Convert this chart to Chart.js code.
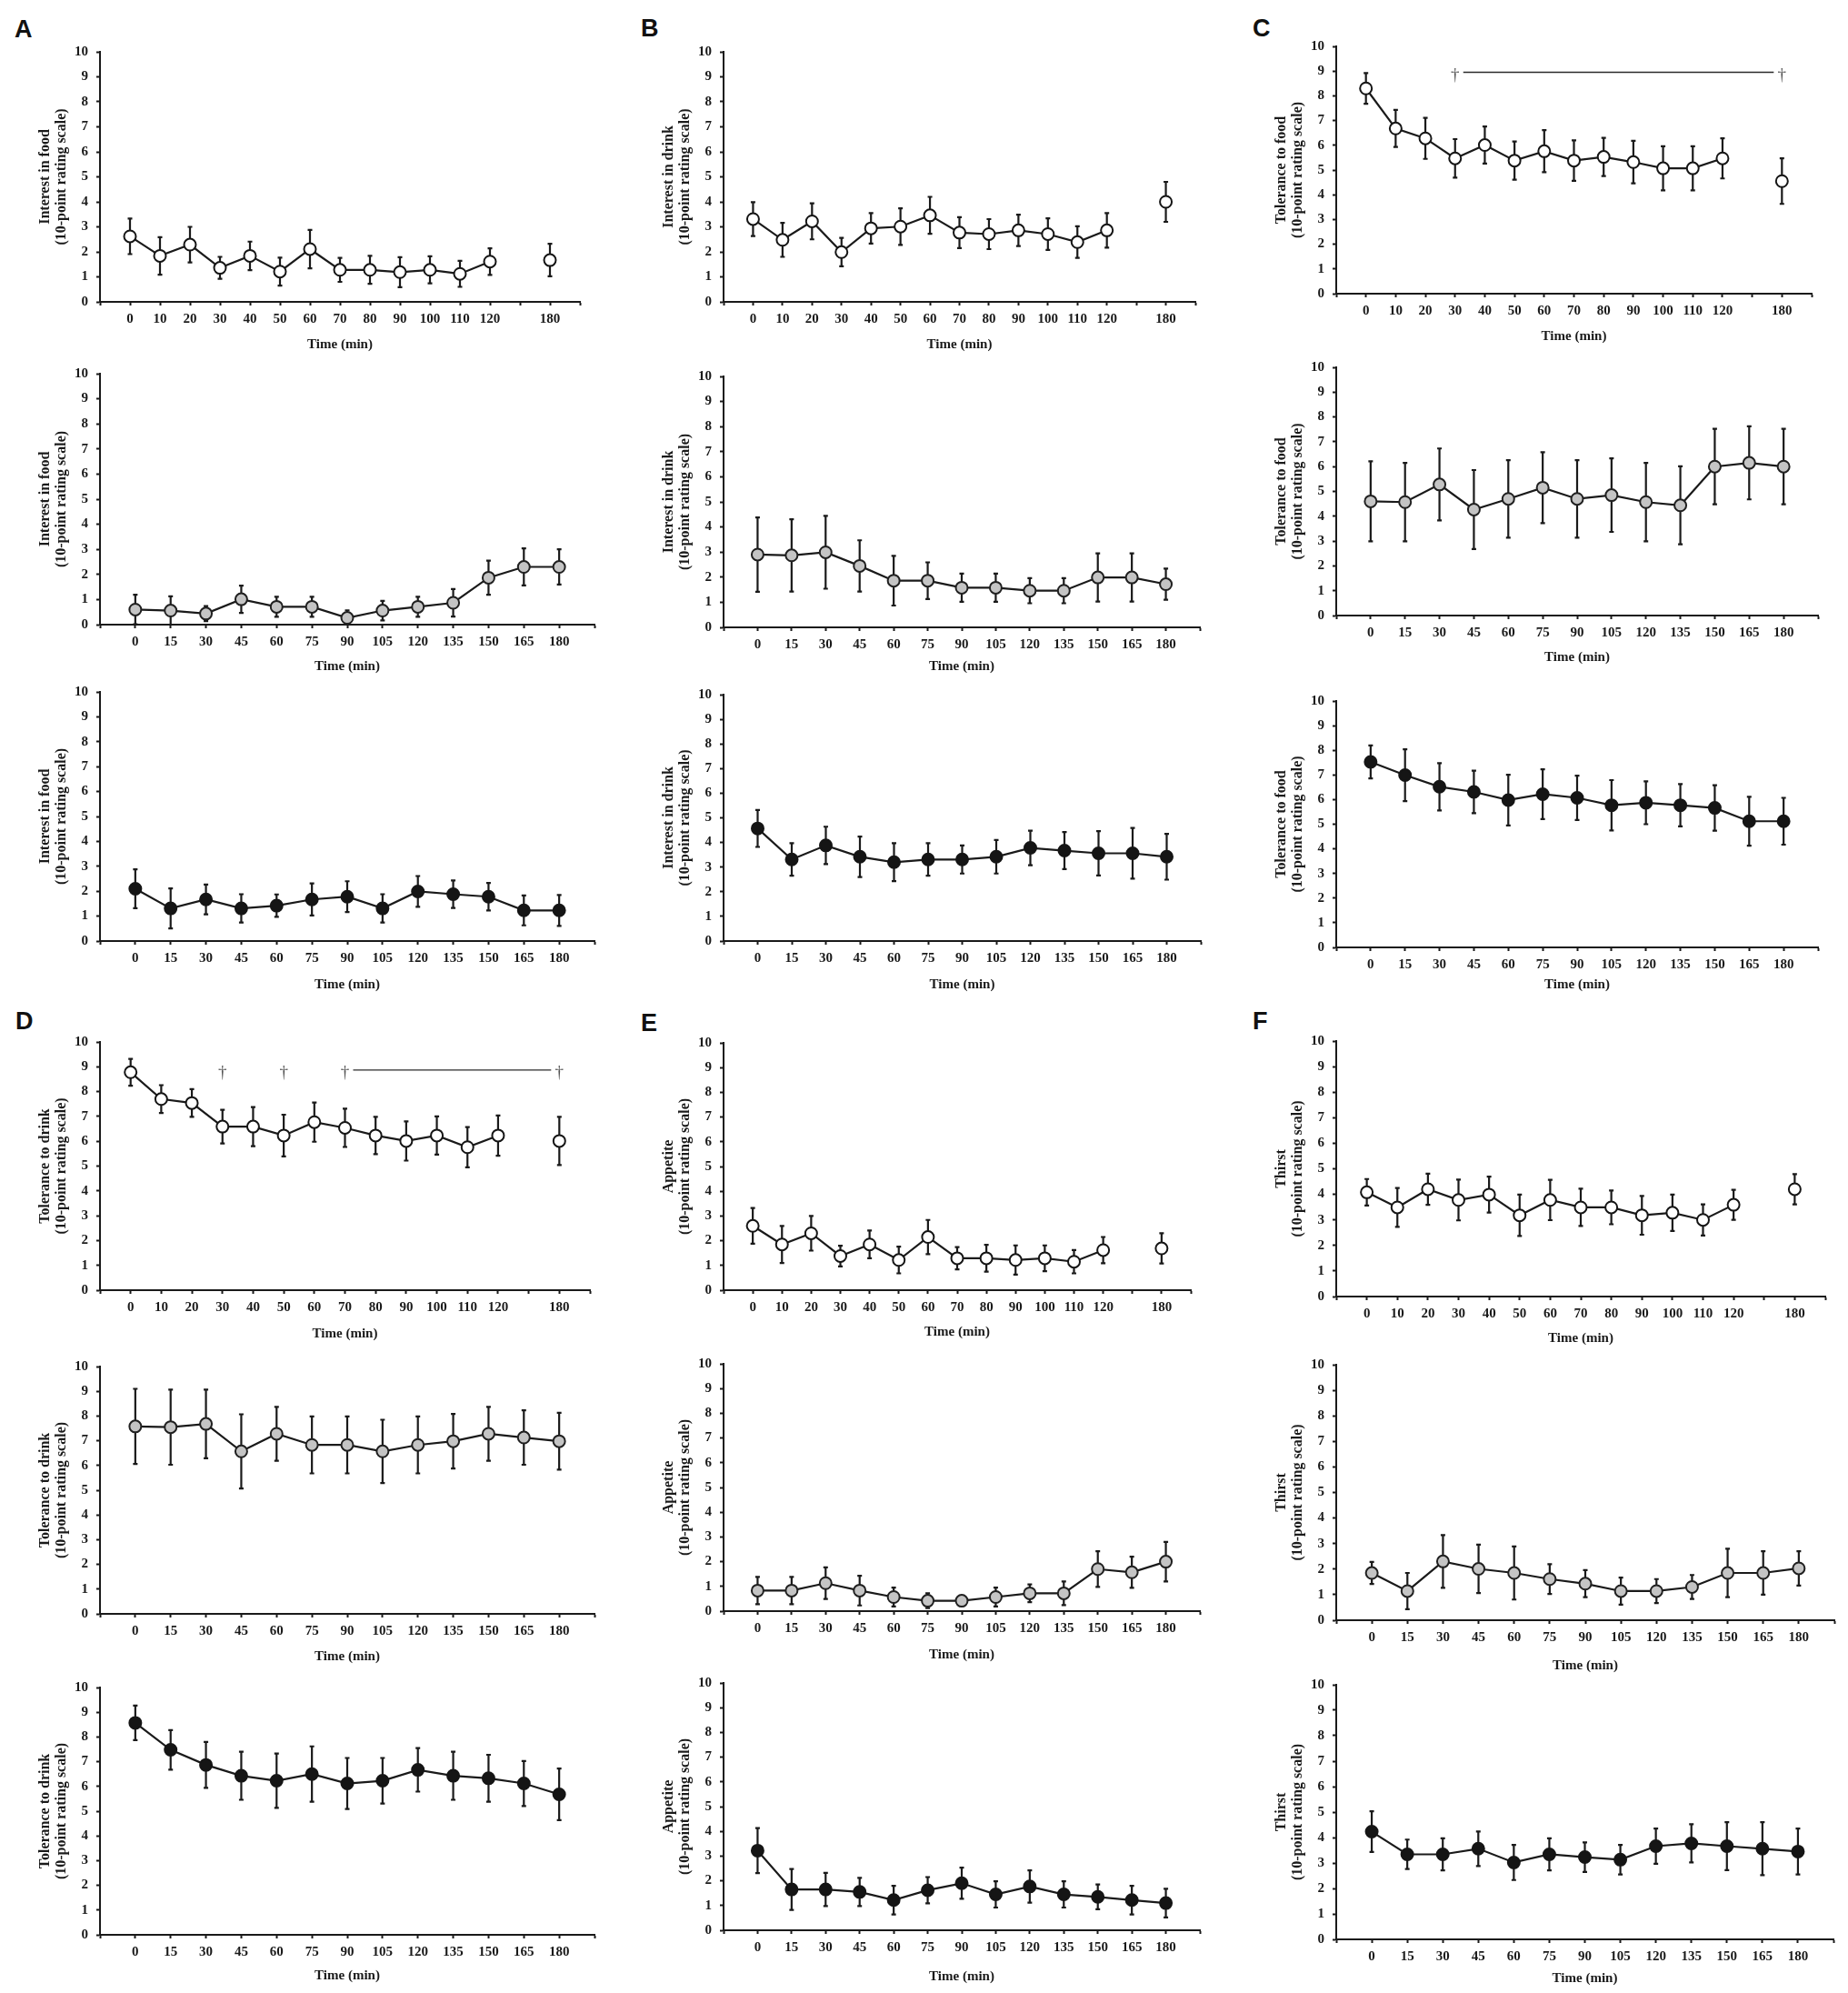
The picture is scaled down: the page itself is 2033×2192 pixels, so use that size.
<!DOCTYPE html>
<html><head><meta charset="utf-8">
<script src="https://cdn.jsdelivr.net/npm/chart.js@4.4.1/dist/chart.umd.min.js"></script>
<style>
html,body{margin:0;padding:0;background:#fff;}
body{width:2033px;height:2192px;position:relative;overflow:hidden;}
canvas{position:absolute;}
.lbl{position:absolute;font-family:"Liberation Sans",Arial,sans-serif;font-weight:bold;font-size:27px;line-height:27px;color:#111;}
</style></head><body>
<div class="lbl" style="left:16px;top:19px">A</div>
<div class="lbl" style="left:705px;top:18px">B</div>
<div class="lbl" style="left:1378px;top:18px">C</div>
<div class="lbl" style="left:17px;top:1110px">D</div>
<div class="lbl" style="left:705px;top:1112px">E</div>
<div class="lbl" style="left:1378px;top:1110px">F</div>
<script>
// ---- tick labels ----
const ticksGap = ['0','10','20','30','40','50','60','70','80','90','100','110','120','','180'];
const ticks15 = ['0','15','30','45','60','75','90','105','120','135','150','165','180'];

// ---- A: Interest in food ----
const A1_mean = [2.62,1.84,2.29,1.36,1.84,1.21,2.11,1.28,1.28,1.19,1.28,1.12,1.61,null,1.67];
const A1_err  = [0.71,0.75,0.71,0.44,0.57,0.56,0.77,0.48,0.56,0.6,0.54,0.52,0.53,null,0.65];
const A2_mean = [0.6,0.56,0.44,1.01,0.71,0.71,0.27,0.56,0.71,0.87,1.87,2.3,2.3];
const A2_err  = [0.59,0.57,0.3,0.54,0.4,0.4,0.3,0.39,0.4,0.55,0.68,0.74,0.7];
const A3_mean = [2.1,1.31,1.67,1.31,1.42,1.67,1.78,1.31,1.99,1.88,1.78,1.23,1.23];
const A3_err  = [0.78,0.8,0.6,0.57,0.45,0.64,0.62,0.57,0.62,0.55,0.55,0.6,0.62];
// ---- B: Interest in drink ----
const B1_mean = [3.31,2.48,3.22,1.99,2.94,3.01,3.46,2.77,2.71,2.86,2.71,2.39,2.86,null,4.0];
const B1_err  = [0.68,0.68,0.72,0.57,0.61,0.73,0.74,0.62,0.6,0.63,0.63,0.63,0.69,null,0.8];
const B2_mean = [2.9,2.87,2.99,2.45,1.86,1.86,1.58,1.58,1.46,1.46,1.99,1.99,1.72];
const B2_err  = [1.48,1.44,1.45,1.02,0.99,0.73,0.56,0.56,0.5,0.5,0.96,0.96,0.62];
const B3_mean = [4.57,3.31,3.88,3.42,3.2,3.31,3.31,3.42,3.78,3.67,3.56,3.56,3.42];
const B3_err  = [0.75,0.66,0.76,0.82,0.77,0.66,0.57,0.68,0.7,0.75,0.9,1.03,0.93];
// ---- C: Tolerance to food ----
const C1_mean = [8.3,6.68,6.28,5.47,6.01,5.38,5.76,5.38,5.53,5.32,5.07,5.07,5.47,null,4.55];
const C1_err  = [0.62,0.75,0.83,0.78,0.75,0.77,0.85,0.82,0.77,0.86,0.89,0.89,0.81,null,0.92];
const C2_mean = [4.6,4.57,5.28,4.27,4.7,5.15,4.7,4.85,4.57,4.44,6.0,6.15,6.0];
const C2_err  = [1.61,1.58,1.45,1.59,1.56,1.43,1.56,1.48,1.58,1.57,1.52,1.47,1.52];
const C3_mean = [7.53,6.99,6.52,6.31,5.98,6.22,6.07,5.77,5.87,5.77,5.66,5.12,5.12];
const C3_err  = [0.67,1.05,0.96,0.86,1.03,1.01,0.9,1.02,0.87,0.86,0.92,0.99,0.95];
// ---- D: Tolerance to drink ----
const D1_mean = [8.78,7.7,7.54,6.59,6.59,6.23,6.77,6.54,6.23,6.01,6.23,5.76,6.23,null,6.01];
const D1_err  = [0.54,0.56,0.56,0.68,0.79,0.84,0.79,0.77,0.75,0.79,0.77,0.81,0.81,null,0.97];
const D2_mean = [7.58,7.55,7.68,6.57,7.28,6.83,6.83,6.57,6.83,6.98,7.28,7.13,6.98];
const D2_err  = [1.52,1.52,1.39,1.5,1.09,1.15,1.15,1.28,1.15,1.1,1.09,1.1,1.15];
const D3_mean = [8.57,7.48,6.87,6.43,6.23,6.5,6.12,6.23,6.67,6.43,6.33,6.12,5.68];
const D3_err  = [0.7,0.8,0.93,0.97,1.1,1.12,1.03,0.92,0.88,0.97,0.95,0.91,1.04];
// ---- E: Appetite ----
const E1_mean = [2.6,1.85,2.3,1.38,1.85,1.22,2.15,1.29,1.29,1.22,1.29,1.15,1.62,null,1.69];
const E1_err  = [0.72,0.75,0.7,0.42,0.56,0.54,0.69,0.45,0.54,0.59,0.52,0.47,0.53,null,0.61];
const E2_mean = [0.83,0.83,1.13,0.83,0.57,0.42,0.42,0.57,0.72,0.72,1.7,1.57,2.0];
const E2_err  = [0.55,0.55,0.64,0.6,0.38,0.3,0.15,0.38,0.36,0.48,0.72,0.63,0.8];
const E3_mean = [3.22,1.65,1.65,1.55,1.22,1.62,1.9,1.45,1.77,1.45,1.35,1.22,1.1];
const E3_err  = [0.91,0.83,0.67,0.57,0.58,0.53,0.63,0.53,0.65,0.53,0.5,0.58,0.58];
// ---- F: Thirst ----
const F1_mean = [4.08,3.49,4.2,3.78,3.99,3.18,3.78,3.49,3.49,3.18,3.28,3.0,3.59,null,4.2];
const F1_err  = [0.52,0.76,0.61,0.8,0.7,0.81,0.79,0.73,0.66,0.76,0.71,0.61,0.59,null,0.59];
const F2_mean = [1.85,1.14,2.3,2.01,1.85,1.61,1.43,1.14,1.14,1.3,1.85,1.85,2.03];
const F2_err  = [0.43,0.71,1.03,0.95,1.04,0.58,0.53,0.53,0.47,0.47,0.95,0.85,0.67];
const F3_mean = [4.23,3.34,3.34,3.56,3.02,3.34,3.23,3.13,3.66,3.77,3.66,3.56,3.45];
const F3_err  = [0.8,0.58,0.63,0.68,0.69,0.63,0.58,0.58,0.69,0.75,0.94,1.04,0.9];

// ---- significance marks (category index, and level on the y scale) ----
const C1_dagger = [3,14];      const C1_bar = [3,14];  const C1_level = 8.95;
const D1_dagger = [3,5,7,14];  const D1_bar = [7,14];  const D1_level = 8.87;

const foodT = ['Interest in food','(10-point rating scale)'];
const drinkT = ['Interest in drink','(10-point rating scale)'];
const tolFT = ['Tolerance to food','(10-point rating scale)'];
const tolDT = ['Tolerance to drink','(10-point rating scale)'];
const appT = ['Appetite','(10-point rating scale)'];
const thirstT = ['Thirst','(10-point rating scale)'];

const panels = [
 {L:110,T:53,R:638,B:332,gap:47,labels:ticksGap,mean:A1_mean,err:A1_err,st:'open',title:foodT},
 {L:110,T:407,R:654,B:687,gap:46,labels:ticks15,mean:A2_mean,err:A2_err,st:'gray',title:foodT},
 {L:110,T:757,R:654,B:1035,gap:48,labels:ticks15,mean:A3_mean,err:A3_err,st:'black',title:foodT},
 {L:796,T:53,R:1315,B:332,gap:47,labels:ticksGap,mean:B1_mean,err:B1_err,st:'open',title:drinkT},
 {L:796,T:410,R:1320,B:690,gap:43,labels:ticks15,mean:B2_mean,err:B2_err,st:'gray',title:drinkT},
 {L:796,T:760,R:1321,B:1035,gap:48,labels:ticks15,mean:B3_mean,err:B3_err,st:'black',title:drinkT},
 {L:1470,T:47,R:1993,B:323,gap:47,labels:ticksGap,mean:C1_mean,err:C1_err,st:'open',title:tolFT,dag:C1_dagger,bar:C1_bar,lev:C1_level},
 {L:1470,T:400,R:2000,B:677,gap:46,labels:ticks15,mean:C2_mean,err:C2_err,st:'gray',title:tolFT},
 {L:1470,T:767,R:2000,B:1042,gap:41,labels:ticks15,mean:C3_mean,err:C3_err,st:'black',title:tolFT},
 {L:110,T:1142,R:649,B:1419,gap:48,labels:ticksGap,mean:D1_mean,err:D1_err,st:'open',title:tolDT,dag:D1_dagger,bar:D1_bar,lev:D1_level},
 {L:110,T:1499,R:654,B:1775,gap:47,labels:ticks15,mean:D2_mean,err:D2_err,st:'gray',title:tolDT},
 {L:110,T:1852,R:654,B:2128,gap:45,labels:ticks15,mean:D3_mean,err:D3_err,st:'black',title:tolDT},
 {L:796,T:1143,R:1310,B:1419,gap:46,labels:ticksGap,mean:E1_mean,err:E1_err,st:'open',title:appT},
 {L:796,T:1496,R:1320,B:1772,gap:48,labels:ticks15,mean:E2_mean,err:E2_err,st:'gray',title:appT},
 {L:796,T:1847,R:1320,B:2123,gap:51,labels:ticks15,mean:E3_mean,err:E3_err,st:'black',title:appT},
 {L:1470,T:1141,R:2008,B:1426,gap:46,labels:ticksGap,mean:F1_mean,err:F1_err,st:'open',title:thirstT},
 {L:1470,T:1497,R:2018,B:1782,gap:50,labels:ticks15,mean:F2_mean,err:F2_err,st:'gray',title:thirstT},
 {L:1470,T:1849,R:2017,B:2133,gap:43,labels:ticks15,mean:F3_mean,err:F3_err,st:'black',title:thirstT}
];

const styles = {
  open:{bg:'#ffffff',bd:'#151515'},
  gray:{bg:'#c4c4c4',bd:'#202020'},
  black:{bg:'#151515',bd:'#151515'}
};
const SERIF = '"Liberation Serif","Times New Roman",serif';
const INK = '#1a1a1a';
const padL = 69, padT = 14, padR = 14;

const errPlugin = {
  id:'errbars',
  beforeDatasetsDraw(chart){
    const {ctx, scales:{x,y}} = chart;
    chart.data.datasets.forEach(ds=>{
      if(!ds.errors) return;
      ctx.save();
      ctx.strokeStyle = INK; ctx.lineWidth = 2.2; ctx.lineCap='butt';
      ds.data.forEach((p,i)=>{
        const e = ds.errors[i];
        if(p.y==null || e==null) return;
        const px = x.getPixelForValue(p.x);
        const yt = y.getPixelForValue(p.y+e);
        const yb = y.getPixelForValue(Math.max(0,p.y-e));
        ctx.beginPath();
        ctx.moveTo(px,yt); ctx.lineTo(px,yb);
        ctx.moveTo(px-2.5,yt); ctx.lineTo(px+2.5,yt);
        ctx.moveTo(px-2.5,yb); ctx.lineTo(px+2.5,yb);
        ctx.stroke();
      });
      ctx.restore();
    });
  }
};

function build(p){
  const xH = p.gap + 9;
  const w = Math.round((p.R-p.L)+padL+padR), h = Math.round((p.B-p.T)+padT+xH);
  const c = document.createElement('canvas');
  c.width = w; c.height = h;
  c.style.left = (p.L-padL)+'px'; c.style.top = (p.T-padT)+'px';
  c.style.width = w+'px'; c.style.height = h+'px';
  document.body.appendChild(c);
  const st = styles[p.st];
  const n = p.labels.length;
  const plugins = [errPlugin];
  if(p.dag){
    plugins.push({
      id:'dagger',
      afterDatasetsDraw(chart){
        const {ctx, scales:{x,y}} = chart;
        const py = y.getPixelForValue(p.lev);
        ctx.save();
        ctx.strokeStyle = '#2a2a2a'; ctx.lineWidth = 1.4;
        ctx.beginPath();
        ctx.moveTo(x.getPixelForValue(p.bar[0])+9, py);
        ctx.lineTo(x.getPixelForValue(p.bar[1])-9, py);
        ctx.stroke();
        ctx.fillStyle = '#555';
        ctx.font = '19px '+SERIF;
        ctx.textAlign='center'; ctx.textBaseline='middle';
        p.dag.forEach(i=>ctx.fillText('\u2020', x.getPixelForValue(i), py+3));
        ctx.restore();
      }
    });
  }
  new Chart(c,{
    type:'line',
    data:{datasets:[{
      data:p.mean.map((v,i)=>({x:i,y:v})),
      errors:p.err,
      borderColor:INK, borderWidth:2.2,
      pointRadius:6.5, pointHoverRadius:6.5, pointBorderWidth:2,
      pointBackgroundColor:st.bg, pointBorderColor:st.bd,
      spanGaps:false, tension:0, clip:false, fill:false
    }]},
    options:{
      responsive:false, animation:false,
      layout:{padding:{top:padT,right:padR,left:0,bottom:0}},
      plugins:{legend:{display:false},tooltip:{enabled:false}},
      scales:{
        x:{
          type:'linear', min:-1, max:n, offset:false,
          afterFit(s){ s.height = xH; },
          border:{display:true,color:INK,width:2},
          grid:{display:true,drawOnChartArea:false,drawTicks:true,tickLength:4,tickColor:INK,tickWidth:2},
          ticks:{stepSize:1,autoSkip:false,maxRotation:0,padding:6,color:INK,
                 font:{family:SERIF,size:15,weight:'bold'},
                 callback:(v)=> (p.labels[v]!==undefined ? p.labels[v] : '')},
          title:{display:true,text:'Time (min)',color:INK,padding:{top:0,bottom:0},
                 font:{family:SERIF,size:15,weight:'bold'}}
        },
        y:{
          min:0,max:10,
          afterFit(s){ s.width = padL; },
          border:{display:true,color:INK,width:2},
          grid:{display:true,drawOnChartArea:false,drawTicks:true,tickLength:4,tickColor:INK,tickWidth:2},
          ticks:{stepSize:1,padding:9,color:INK,font:{family:SERIF,size:15,weight:'bold'}},
          title:{display:true,text:p.title,color:INK,padding:{top:0,bottom:0},
                 font:{family:SERIF,size:16,weight:'bold',lineHeight:1.1}}
        }
      }
    },
    plugins:plugins
  });
}
panels.forEach(build);
</script>
</body></html>
